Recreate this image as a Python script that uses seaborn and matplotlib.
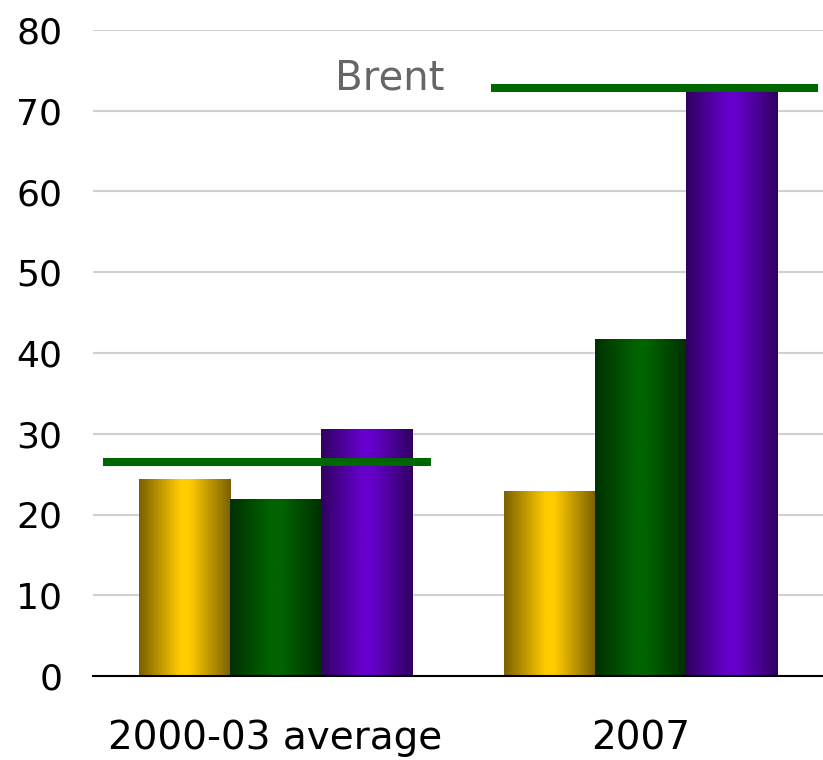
import matplotlib
matplotlib.use('Agg')
import matplotlib.pyplot as plt
import seaborn as sns
import numpy as np
import pandas as pd
from matplotlib.colors import LinearSegmentedColormap

categories = ['2000-03 average', '2007']
series_names = ['Series 1', 'Series 2', 'Series 3']
gold_vals = [24.3, 22.8]
green_vals = [21.8, 41.7]
purple_vals = [30.5, 72.6]
brent_vals = [26.5, 72.8]
y_ticks = [0, 10, 20, 30, 40, 50, 60, 70, 80]

# edge / centre colours for the cylinder-like shading
shades = [('#7a6000', '#ffcc00'), ('#003000', '#006400'), ('#300060', '#6600cc')]

sns.set_style('white')
plt.rcParams['font.family'] = ['DejaVu Sans']

df = pd.DataFrame({
    'category': categories * 3,
    'series': [s for s in series_names for _ in categories],
    'value': gold_vals + green_vals + purple_vals,
})

fig = plt.figure(figsize=(8.23, 7.6), dpi=100)
ax = fig.add_axes([93 / 823, 84 / 760, 1 - 93 / 823, 646 / 760])

sns.barplot(data=df, x='category', y='value', hue='series', order=categories,
            hue_order=series_names, width=0.75, palette=[c[1] for c in shades],
            legend=False, ax=ax, saturation=1)

grad = np.linspace(0, 1, 256).reshape(1, -1)
for cont, (edge, centre) in zip(ax.containers, shades):
    cmap = LinearSegmentedColormap.from_list('g', [(0, edge), (0.45, centre), (0.55, centre), (1, edge)])
    for bar in cont:
        x, w, h = bar.get_x(), bar.get_width(), bar.get_height()
        ax.imshow(grad, extent=[x, x + w, 0, h], aspect='auto', cmap=cmap,
                  zorder=bar.get_zorder() + 0.1, interpolation='bicubic')

# Brent price markers
brent_spans = [(-0.473, 0.425), (-0.41, 0.485)]
for i, (b, (l, r)) in enumerate(zip(brent_vals, brent_spans)):
    ax.plot([i + l, i + r], [b, b], color='#006600', lw=5.8, solid_capstyle='butt', zorder=5)
ax.text(0.464, 72.6, 'Brent', ha='right', va='baseline', fontsize=29, color='#666666')

ax.set_xlim(-0.5, 1.5)
ax.set_ylim(0, 80)
ax.set_yticks(y_ticks)
ax.yaxis.grid(True, color='#d0d0d0', lw=1.5)
ax.set_axisbelow(True)
ax.tick_params(axis='y', length=0, pad=22, labelsize=26, labelcolor='black')
ax.tick_params(axis='x', length=0, pad=31, labelsize=28, labelcolor='black')
ax.set_xlabel('')
ax.set_ylabel('')
for s in ['top', 'right', 'left']:
    ax.spines[s].set_visible(False)
ax.spines['bottom'].set_color('black')
ax.spines['bottom'].set_linewidth(1.5)

plt.savefig('out.png', dpi=100)
plt.close()
